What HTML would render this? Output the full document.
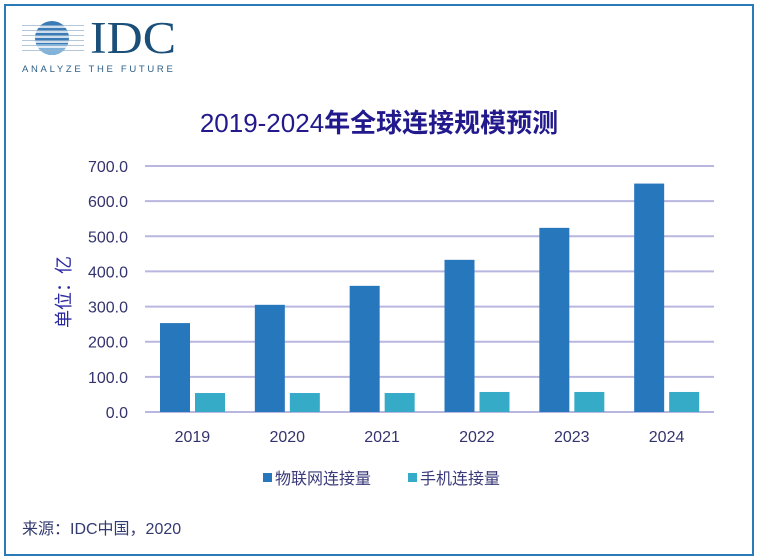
<!DOCTYPE html>
<html><head><meta charset="utf-8"><style>
html,body{margin:0;padding:0;background:#fff;}
body{width:758px;height:559px;position:relative;overflow:hidden;font-family:"Liberation Sans","Noto Sans CJK SC",sans-serif;}
.frame{position:absolute;left:4px;top:4px;width:746px;height:548px;border:2px solid #2a7ab8;}
svg{position:absolute;left:0;top:0;}
</style></head><body>
<div class="frame"></div>
<svg width="758" height="559" id="chart">
  <g>
    <defs><clipPath id="gc"><circle cx="52" cy="38" r="17"/></clipPath></defs>
    <g clip-path="url(#gc)">
      <rect x="30" y="20" width="45" height="36" fill="#3b7cb6"/>
      <rect x="30" y="44" width="45" height="12" fill="#7fb3db"/>
    </g>
    <g stroke="#fff" stroke-width="1.6">
      <line x1="22" y1="27" x2="84" y2="27"/><line x1="22" y1="32" x2="84" y2="32"/>
      <line x1="22" y1="37" x2="84" y2="37"/><line x1="22" y1="42" x2="84" y2="42"/>
      <line x1="22" y1="47" x2="84" y2="47"/>
    </g>
    <g stroke="#9ab5cc" stroke-width="0.8">
      <line x1="22" y1="25.5" x2="84" y2="25.5"/><line x1="22" y1="30.5" x2="84" y2="30.5"/>
      <line x1="22" y1="35.5" x2="84" y2="35.5"/><line x1="22" y1="40.5" x2="84" y2="40.5"/>
      <line x1="22" y1="45.5" x2="84" y2="45.5"/><line x1="22" y1="50.5" x2="84" y2="50.5"/>
    </g>
    <text x="90" y="53" font-family="Liberation Serif,serif" font-size="45" fill="#1a4f7a" textLength="86" lengthAdjust="spacingAndGlyphs">IDC</text>
    <text x="22" y="72" font-size="9.5" fill="#2d5f86" letter-spacing="2.2" textLength="153" lengthAdjust="spacing">ANALYZE THE FUTURE</text>
  </g>
  <text x="379" y="132" text-anchor="middle" font-size="26" fill="#22198c"><tspan>2019-2024</tspan><tspan font-weight="bold">年全球连接规模预测</tspan></text>
  <text transform="translate(70,292) rotate(-90)" text-anchor="middle" font-size="18" fill="#2b2aa0">单位：亿</text>
  <g id="grid"></g><g id="bars"></g>
  <g>
    <rect x="263" y="473" width="9" height="9" fill="#2777bd"/>
    <text x="275" y="484" font-size="16" fill="#3a3a7a">物联网连接量</text>
    <rect x="408" y="473" width="9" height="9" fill="#36abc8"/>
    <text x="420" y="484" font-size="16" fill="#3a3a7a">手机连接量</text>
  </g>
  <text x="22" y="534" font-size="16" fill="#333a70">来源：IDC中国，2020</text>
</svg>
<script>
const categories=["2019","2020","2021","2022","2023","2024"];
const iotValues=[253,305,359,433,524,650];
const mobileValues=[54,54,54,57,57,57];
const yTicks=[0,100,200,300,400,500,600,700];
const yTickLabels=["0.0","100.0","200.0","300.0","400.0","500.0","600.0","700.0"];
const NS="http://www.w3.org/2000/svg";
const X0=145,X1=714,Y0=412,Y700=166;
const y=v=>Y0-(v/700)*(Y0-Y700);
const gw=(X1-X0)/categories.length;
const x=i=>X0+i*gw;
function mk(t,a,p){const e=document.createElementNS(NS,t);for(const k in a)e.setAttribute(k,a[k]);p.appendChild(e);return e;}
const grid=document.getElementById('grid'),bars=document.getElementById('bars');
yTicks.forEach((t,i)=>{
  const l=mk('line',{x1:X0,x2:X1,y1:y(t),y2:y(t),stroke:'#b9b6e0','stroke-width':2},grid);
  
  
  const tx=mk('text',{x:128,y:y(t)+6,'text-anchor':'end','font-size':16,fill:'#33336e'},grid);
  tx.textContent=yTickLabels[i];
  
  
});
categories.forEach((c,i)=>{
  const b1=mk('rect',{x:x(i)+15,y:y(iotValues[i]),width:30,height:Y0-y(iotValues[i]),fill:'#2777bd'},bars);
  
  
  const b2=mk('rect',{x:x(i)+50,y:y(mobileValues[i]),width:30,height:Y0-y(mobileValues[i]),fill:'#36abc8'},bars);
  
  
  const t=mk('text',{x:x(i)+gw/2,y:442,'text-anchor':'middle','font-size':16,fill:'#33336e'},bars);
  t.textContent=c;
  
  
});
</script>
</body></html>
